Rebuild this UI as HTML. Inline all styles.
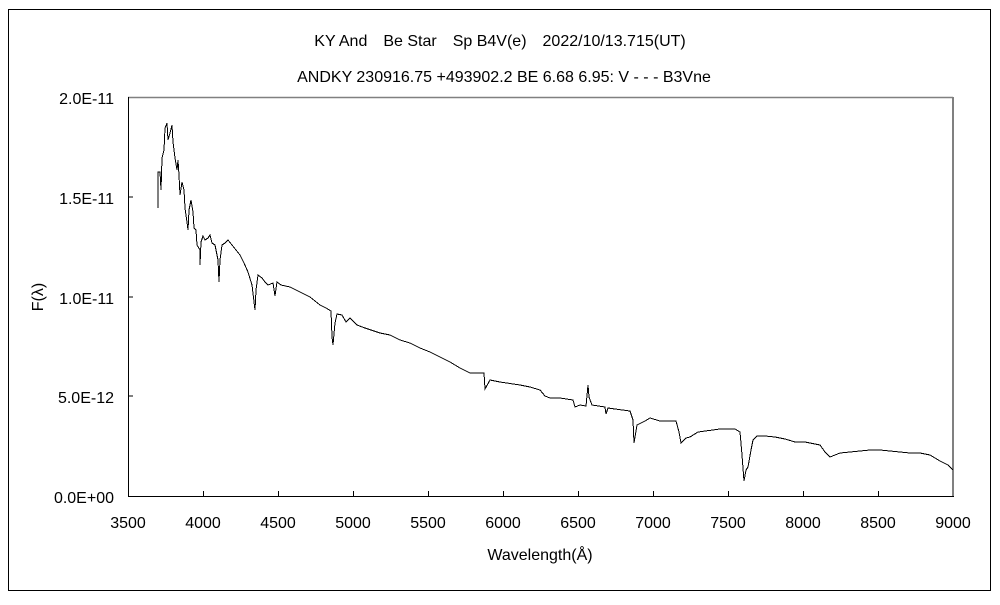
<!DOCTYPE html>
<html><head><meta charset="utf-8"><style>
body{margin:0;background:#fff}
svg text{font-family:"Liberation Sans","Noto Sans CJK JP",sans-serif;font-size:16px;fill:#000}
</style></head><body>
<svg width="1000" height="600" xmlns="http://www.w3.org/2000/svg">
<rect x="8.5" y="9.5" width="982" height="581" fill="none" stroke="#000" stroke-width="1"/>
<text x="500" y="46" text-anchor="middle">KY And　Be Star　Sp B4V(e)　2022/10/13.715(UT)</text>
<text x="504" y="82" text-anchor="middle">ANDKY 230916.75 +493902.2 BE 6.68 6.95: V - - - B3Vne</text>
<line x1="128" y1="97.5" x2="953" y2="97.5" stroke="#808080" stroke-width="1.5"/>
<line x1="953" y1="97" x2="953" y2="496" stroke="#808080" stroke-width="2"/>
<line x1="128.5" y1="97" x2="128.5" y2="497" stroke="#000"/>
<line x1="128" y1="496.5" x2="954" y2="496.5" stroke="#000"/>
<g stroke="#000">
<line x1="128" y1="197" x2="133" y2="197"/><line x1="128" y1="297" x2="133" y2="297"/><line x1="128" y1="396" x2="133" y2="396"/>
<line x1="203.5" y1="496" x2="203.5" y2="491"/><line x1="278.5" y1="496" x2="278.5" y2="491"/><line x1="353.5" y1="496" x2="353.5" y2="491"/><line x1="428.5" y1="496" x2="428.5" y2="491"/><line x1="503.5" y1="496" x2="503.5" y2="491"/><line x1="578.5" y1="496" x2="578.5" y2="491"/><line x1="653.5" y1="496" x2="653.5" y2="491"/><line x1="728.5" y1="496" x2="728.5" y2="491"/><line x1="803.5" y1="496" x2="803.5" y2="491"/><line x1="878.5" y1="496" x2="878.5" y2="491"/>
</g>
<g text-anchor="end">
<text x="114" y="104">2.0E-11</text><text x="114" y="204">1.5E-11</text><text x="114" y="304">1.0E-11</text><text x="114" y="403">5.0E-12</text><text x="114" y="503">0.0E+00</text>
</g>
<g text-anchor="middle">
<text x="128" y="528">3500</text><text x="203" y="528">4000</text><text x="278" y="528">4500</text><text x="353" y="528">5000</text><text x="428" y="528">5500</text><text x="503" y="528">6000</text><text x="578" y="528">6500</text><text x="653" y="528">7000</text><text x="728" y="528">7500</text><text x="803" y="528">8000</text><text x="878" y="528">8500</text><text x="953" y="528">9000</text>
<text x="540" y="560">Wavelength(Å)</text>
<text transform="translate(43,297) rotate(-90)">F(λ)</text>
</g>
<polyline fill="none" stroke="#000" stroke-width="1" shape-rendering="crispEdges" points="158,208 158,172 160,172 161,190 162,158 164,150 165,128 167,123 168,140 170,133 172,125 173,142 175,158 177,170 178,160 179,175 180,195 182,182 184,190 185,208 187,222 188,230 189,210 191,200 193,212 194,228 196,230 197,245 200,250 200,265 201,242 203,236 205,240 208,238 210,235 212,243 215,245 218,260 219,282 220,260 222,245 225,243 228,240 232,245 236,250 240,255 244,263 248,272 252,285 255,310 256,290 258,275 262,278 265,282 268,285 273,283 275,296 277,282 281,285 290,287 300,292 310,297 320,305 326,308 331,311 332,337 333,345 335,323 337,314 342,315 346,322 350,318 357,325 365,328 380,333 390,335 400,340 410,343 420,348 430,352 440,357 450,362 460,368 470,373 484,373 485,389 490,380 500,382 520,385 530,387 540,390 545,396 550,398 560,398 573,400 575,407 580,405 586,406 588,385 589,397 592,405 605,407 606,414 608,408 615,409 630,411 633,420 634,443 637,425 645,421 650,418 660,421 676,421 679,432 681,443 684,440 686,438 690,437 698,432 720,429 735,429 740,432 742,455 744,481 746,470 748,467 751,450 753,440 757,436 765,436 775,437 785,439 795,442 805,442 815,444 820,445 825,452 830,457 835,455 840,453 850,452 860,451 870,450 880,450 890,451 900,452 910,453 920,453 930,455 940,461 948,465 953,470"/>
</svg>
</body></html>
